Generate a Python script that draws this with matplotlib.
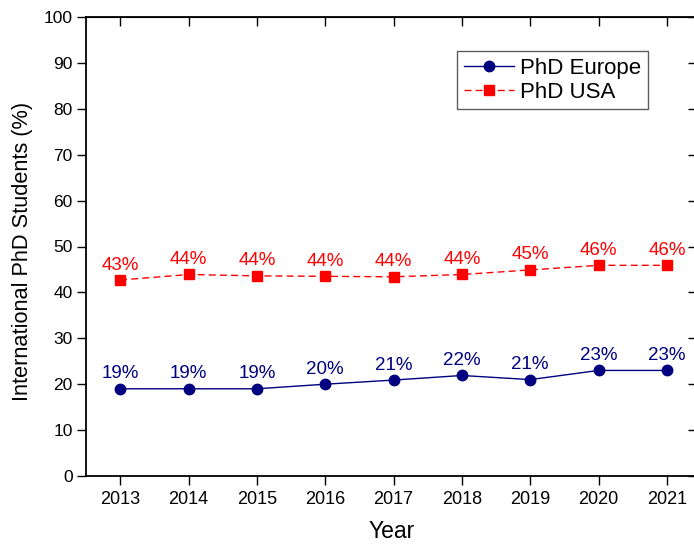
import matplotlib
matplotlib.use("Agg")
import matplotlib.pyplot as plt

plt.rcParams['font.family'] = ['Liberation Sans', 'DejaVu Sans']

years = [2013, 2014, 2015, 2016, 2017, 2018, 2019, 2020, 2021]
europe = [19, 19, 19, 20, 20.9, 21.9, 21, 23, 23]
usa = [42.7, 43.9, 43.6, 43.5, 43.4, 43.9, 44.9, 45.9, 45.9]
europe_labels = ["19%", "19%", "19%", "20%", "21%", "22%", "21%", "23%", "23%"]
usa_labels = ["43%", "44%", "44%", "44%", "44%", "44%", "45%", "46%", "46%"]
yticks = [0, 10, 20, 30, 40, 50, 60, 70, 80, 90, 100]

fig = plt.figure(figsize=(6.94, 5.46), dpi=100)
W, H = 694, 546
ax = fig.add_axes([86 / W, 1 - 476 / H, (697 - 86) / W, (476 - 17) / H])

navy = '#000080'
red = '#ff0000'
ax.plot(years, europe, color=navy, lw=1.0, marker='o', ms=7.5, mew=1, label='PhD Europe')
ax.plot(years, usa, color=red, lw=1.0, ls=(0, (5, 3)), marker='s', ms=6.8, mew=1, label='PhD USA')

for x, y, t in zip(years, europe, europe_labels):
    ax.annotate(t, (x, y), xytext=(0, 7.5), textcoords='offset points',
                ha='center', va='baseline', color=navy, fontsize=13.5)
for x, y, t in zip(years, usa, usa_labels):
    ax.annotate(t, (x, y), xytext=(0, 7.5), textcoords='offset points',
                ha='center', va='baseline', color=red, fontsize=13.5)

ax.set_xlim(2012.5, 2021.44)
ax.set_ylim(0, 100)
ax.set_xticks(years)
ax.set_yticks(yticks)
ax.tick_params(axis='x', direction='out', length=6.5, width=1, labelsize=13, pad=4)
ax.tick_params(axis='y', direction='out', length=6.5, width=1, labelsize=12.5, pad=3)
for s in ax.spines.values():
    s.set_linewidth(1.3)

top = ax.secondary_xaxis('top')
top.set_xticks(years)
top.tick_params(direction='in', length=6.5, width=1, labeltop=False)
right = ax.secondary_yaxis('right')
right.set_yticks(yticks)
right.tick_params(direction='in', length=6.5, width=1, labelright=False)

ax.set_xlabel('Year', fontsize=16.5, labelpad=9)
ax.set_ylabel('International PhD Students (%)', fontsize=15.7)
ax.yaxis.set_label_coords(-0.086, 0.49)

leg = ax.legend(loc='upper right', bbox_to_anchor=((648 - 86) / (697 - 86), 1 - (51 - 17) / (476 - 17)),
                fontsize=16, frameon=True, fancybox=False, edgecolor='#333333',
                handlelength=2.25, borderpad=0.3, labelspacing=0.14, handletextpad=0.3,
                borderaxespad=0)
leg.get_frame().set_linewidth(1.0)

fig.savefig('out.png', dpi=100)
